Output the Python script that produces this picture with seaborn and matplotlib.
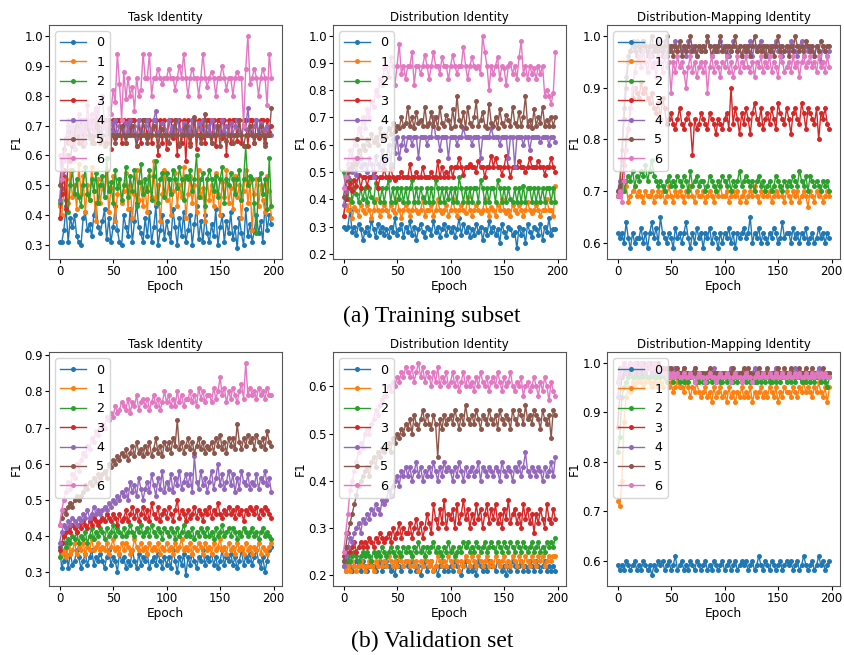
import numpy as np
import matplotlib
matplotlib.use("Agg")
import matplotlib.pyplot as plt
import seaborn as sns

# ---------------- data (F1 in hundredths, sampled every 2 epochs) ----------------
epochs = list(range(0, 200, 2))
series_labels = ["0", "1", "2", "3", "4", "5", "6"]
panel_titles = ["Task Identity", "Distribution Identity", "Distribution-Mapping Identity"]
captions = ["(a) Training subset", "(b) Validation set"]
x_ticks = [0, 50, 100, 150, 200]

train_task = [
    [31,31,35,43,31,39,36,40,33,31, 30,39,41,35,37,33,40,44,36,34, 38,42,32,39,31,36,43,35,31,30,
     40,36,33,42,31,38,44,36,34,31, 39,33,41,31,36,43,30,35,40,32, 38,34,31,42,36,30,39,33,41,31,
     35,40,30,37,43,32,38,31,40,34, 31,37,33,42,30,36,40,31,38,34, 41,32,36,29,39,34,30,42,33,37,
     31,35,40,34,38,31,44,35,40,37],
    [43,40,48,52,44,55,46,50,42,57, 47,53,41,50,45,56,48,38,52,44, 50,46,55,41,49,53,38,47,52,44,
     48,54,42,50,39,47,55,45,51,43, 49,41,53,46,58,44,50,38,47,55, 45,52,40,48,54,43,50,46,56,39,
     47,53,44,50,41,55,46,49,38,52, 45,50,43,54,47,40,51,46,55,44, 49,42,53,46,50,39,48,55,44,51,
     35,47,52,43,50,45,41,53,48,39],
    [44,49,53,45,41,50,55,47,52,46, 43,50,56,47,45,52,48,54,44,50, 53,46,59,48,51,44,55,49,52,45,
     50,56,46,53,48,55,43,51,57,47, 52,48,55,45,53,58,44,52,54,46, 54,52,47,55,52,49,56,52,45,53,
     52,55,48,52,60,46,52,54,43,52, 55,52,48,53,46,52,56,44,52,50, 54,52,47,52,55,45,52,63,50,53,
     52,44,34,52,54,47,52,42,59,43],
    [39,47,55,42,60,58,65,62,68,64, 72,64,70,72,66,72,64,72,68,64, 72,72,64,72,62,72,66,72,72,64,
     72,64,72,68,72,72,63,72,64,72, 72,66,72,64,72,72,60,72,64,72, 62,72,72,66,72,60,72,64,72,58,
     72,64,72,72,62,72,66,72,64,72, 72,64,72,63,72,72,66,72,60,72, 64,72,72,65,72,64,72,72,63,72,
     72,64,72,66,72,72,64,72,68,70],
    [45,54,60,65,70,67,72,68,71,66, 70,67,72,69,66,71,67,75,70,68, 67,72,69,67,71,68,72,67,70,69,
     67,71,68,72,67,70,66,72,68,67, 70,72,67,69,72,75,68,67,71,69, 67,72,68,70,67,72,69,67,71,68,
     70,67,72,68,67,71,69,72,67,70, 68,72,67,70,69,67,72,68,70,67, 71,67,70,72,68,67,70,69,76,68,
     67,70,72,68,71,67,69,70,67,67],
    [50,58,62,66,64,68,63,67,70,66, 67,63,67,70,67,64,67,67,72,67, 67,63,67,69,67,67,64,67,67,70,
     67,64,67,67,70,67,63,67,67,72, 67,64,67,67,70,67,63,67,69,67, 67,64,67,67,72,67,63,67,67,70,
     67,63,67,73,67,67,64,67,74,67, 67,64,67,67,70,63,67,67,65,67, 67,64,67,67,72,67,63,67,67,70,
     67,64,67,67,70,67,63,67,67,76],
    [60,52,58,66,72,64,70,62,68,74, 66,72,64,77,70,74,68,76,72,78, 80,70,66,76,74,82,78,94,84,72,
     88,79,86,80,83,75,86,80,82,94, 86,86,94,80,86,86,89,86,84,86, 86,89,86,86,82,86,90,86,94,86,
     80,86,89,86,86,80,86,94,86,83, 86,88,86,80,86,86,90,86,82,86, 86,80,86,88,86,86,70,89,100,84,
     86,89,86,80,86,89,86,77,94,86],
]

train_dist = [
    [30,29,30,36,28,30,27,31,29,25, 28,30,27,32,29,26,31,28,30,27, 29,26,30,28,33,27,29,31,26,30,
     28,32,27,30,25,29,31,28,26,30, 29,27,32,28,30,26,29,31,27,30, 28,30,26,29,33,27,31,28,30,26,
     29,27,31,28,30,25,29,27,32,28, 30,27,29,24,31,28,26,30,29,27, 28,22,30,27,29,24,31,28,26,30,
     29,27,31,25,30,28,33,27,29,29],
    [34,38,36,40,33,37,36,34,38,36, 35,38,36,33,36,40,36,34,36,38, 36,34,38,36,35,40,36,33,36,38,
     36,34,36,39,36,35,36,40,34,36, 36,38,34,36,40,36,35,36,38,34, 36,40,36,34,36,38,36,35,41,36,
     34,36,38,36,35,36,40,36,34,37, 36,34,38,36,40,36,35,36,34,38, 36,35,38,36,34,36,39,36,35,36,
     38,36,34,36,36,40,36,36,34,45],
    [50,44,40,47,39,44,42,39,44,40, 44,39,44,41,39,46,44,39,44,39, 44,47,39,44,39,44,40,44,39,44,
     39,44,47,39,44,39,44,41,39,44, 39,44,39,47,44,39,44,39,44,40, 44,39,44,39,48,44,39,44,39,44,
     39,44,44,39,47,44,39,44,39,44, 44,39,47,44,39,44,39,44,40,39, 44,39,44,39,45,39,44,44,39,44,
     39,44,39,44,39,44,44,39,44,39],
    [34,40,44,46,43,47,45,49,44,48, 48,45,48,48,50,48,44,48,48,51, 48,48,52,48,47,48,48,50,48,48,
     48,53,48,48,50,48,48,52,48,48, 48,50,48,48,54,48,52,48,50,48, 52,48,52,52,55,52,49,52,52,53,
     52,52,50,54,52,52,48,52,52,56, 52,55,52,52,49,52,56,52,48,52, 52,52,54,52,52,50,52,55,52,52,
     52,54,52,52,49,52,52,55,52,50],
    [38,43,48,52,50,53,49,55,52,53, 53,50,55,53,48,56,53,52,58,53, 55,60,53,62,57,63,55,60,63,58,
     63,63,60,63,63,55,63,63,63,60, 63,63,70,63,63,58,63,63,63,55, 63,63,63,60,63,63,66,63,63,63,
     60,63,63,63,55,63,63,63,63,66, 63,63,63,60,63,63,63,55,63,63, 52,63,63,63,60,63,63,58,63,63,
     63,63,61,63,63,63,60,63,63,61],
    [41,47,50,53,52,55,53,58,55,60, 58,62,60,64,61,63,60,66,62,64, 63,66,64,68,65,67,66,70,67,68,
     74,67,70,66,72,68,69,67,74,67, 68,72,67,70,66,74,68,67,71,69, 66,73,67,78,69,67,72,66,74,68,
     67,70,76,67,69,72,67,66,75,68, 67,70,66,73,68,67,71,69,67,74, 68,67,72,67,70,78,67,69,66,73,
     67,70,68,74,67,69,67,70,67,70],
    [44,48,53,58,55,62,60,66,63,70, 66,73,70,76,74,80,78,84,82,88, 89,85,92,89,82,89,97,86,89,84,
     89,89,94,82,89,89,86,89,93,89, 84,89,94,89,89,86,92,89,89,84, 89,93,89,86,89,89,96,89,84,89,
     92,89,88,89,86,100,94,89,80,89, 86,89,92,84,89,88,82,89,90,86, 89,84,92,98,86,89,84,89,86,88,
     84,89,86,89,78,80,78,75,79,94],
]

train_map = [
    [62,61,62,60,64,61,59,62,60,61, 61,63,60,62,59,62,64,61,63,60, 65,62,61,60,62,61,59,63,61,62,
     60,62,64,61,59,62,60,63,61,62, 59,62,61,63,60,62,61,59,62,60, 62,61,63,60,62,59,62,61,62,63,
     61,62,65,60,62,61,63,60,62,61, 60,62,61,63,62,60,61,64,61,62, 62,60,63,61,62,60,62,61,63,60,
     61,62,60,61,63,61,62,60,62,61],
    [69,69,70,70,71,68,69,70,71,69, 70,69,68,70,69,69,70,68,69,70, 69,70,68,69,71,69,68,70,69,70,
     69,68,70,69,71,69,68,70,69,69, 70,68,69,70,69,68,70,69,71,69, 69,70,68,69,70,69,70,68,69,70,
     68,69,70,69,71,69,68,70,69,70, 69,70,68,69,70,69,71,69,68,70, 69,68,70,69,70,68,69,70,69,67,
     70,69,68,70,69,70,68,69,70,69],
    [69,70,71,70,72,73,72,74,71,73, 72,74,73,75,72,74,76,73,72,71, 72,71,70,72,73,71,72,71,73,72,
     71,73,72,70,74,71,72,73,71,72, 72,70,71,73,72,71,70,72,71,73, 72,71,73,70,72,71,72,74,71,72,
     73,72,71,72,70,72,73,71,72,70, 71,72,70,71,73,72,71,70,72,71, 72,71,73,72,71,74,72,71,73,70,
     73,72,71,72,71,70,72,71,72,70],
    [69,70,72,75,80,82,86,88,90,89, 88,91,89,90,88,87,89,86,85,87, 84,88,86,83,84,85,83,82,84,86,
     83,82,84,85,83,77,84,82,83,85, 84,83,82,85,84,83,81,84,83,82, 84,85,82,90,83,86,84,81,85,83,
     86,84,81,85,87,84,83,86,82,84, 85,83,86,84,82,87,85,84,83,86, 84,81,85,86,84,83,87,85,82,86,
     85,84,83,86,80,85,84,86,83,82],
    [70,72,78,86,92,96,97,98,97,99, 98,97,99,98,97,98,96,98,97,99, 98,97,99,96,98,97,98,99,97,98,
     97,98,96,99,97,98,97,96,98,97, 98,97,99,98,96,97,98,97,99,98, 97,98,96,97,99,98,97,98,96,97,
     98,97,99,96,98,97,98,99,97,98, 96,98,97,98,99,97,98,96,97,98, 97,99,98,97,96,98,99,97,98,97,
     98,97,96,98,97,95,98,97,96,97],
    [70,71,76,84,90,95,97,99,98,96, 98,97,99,98,96,98,100,97,98,97, 98,96,98,100,97,98,96,98,97,99,
     96,98,97,98,100,97,98,96,98,97, 98,97,100,98,96,98,97,98,100,97, 98,96,98,97,98,100,97,98,96,98,
     97,98,96,98,100,97,98,97,98,96, 98,97,98,96,98,100,97,98,97,98, 96,98,97,100,98,97,98,96,99,98,
     97,98,96,98,97,99,98,97,98,98],
    [69,70,68,72,78,82,86,90,93,95, 96,94,97,95,93,96,94,95,92,96, 95,93,96,94,95,89,95,93,96,94,
     95,93,90,94,96,93,95,92,94,95, 93,95,89,94,96,93,95,94,92,95, 94,96,93,95,92,94,96,93,95,94,
     96,94,93,95,92,95,94,96,93,95, 94,96,93,95,94,92,96,95,93,94, 95,93,96,94,95,92,95,96,94,95,
     96,94,95,93,96,94,95,93,96,94],
]

val_task = [
    [37,31,33,38,31,35,32,33,36,34, 31,33,35,32,34,36,32,34,33,35, 33,31,34,36,32,34,33,30,35,33,
     34,31,33,32,36,33,31,35,32,34, 33,35,31,33,34,32,35,33,31,34, 32,34,31,36,33,30,34,32,35,29,
     34,32,35,33,31,34,33,36,32,34, 33,35,32,34,31,33,36,32,34,33, 35,32,34,31,33,36,32,34,33,35,
     32,34,36,33,31,34,30,33,36,37],
    [34,35,36,34,37,35,36,38,35,37, 36,38,35,37,36,39,36,37,38,36, 37,36,38,35,37,39,36,37,35,38,
     36,38,37,35,36,39,37,36,38,36, 37,35,38,36,37,36,38,35,37,36, 38,36,37,35,38,36,37,39,36,37,
     36,38,35,37,36,38,37,35,38,36, 37,35,38,36,37,39,36,37,35,38, 36,37,35,38,36,37,35,38,36,37,
     35,37,36,38,35,37,36,35,37,38],
    [34,38,40,37,39,38,40,39,41,38, 40,39,41,38,40,42,39,41,40,42, 41,39,42,40,41,43,40,42,41,40,
     42,40,41,43,41,40,42,41,43,40, 41,42,40,43,41,40,42,41,39,42, 41,40,42,41,39,42,40,41,43,40,
     41,40,42,39,41,40,42,41,40,42, 40,41,39,42,40,41,43,40,41,42, 40,42,41,39,41,40,42,41,40,41,
     42,40,41,39,41,42,40,41,40,39],
    [36,38,40,41,42,41,43,42,41,43, 42,44,43,42,44,43,45,44,43,44, 45,44,46,45,44,46,45,43,46,44,
     45,47,44,46,48,45,47,44,46,48, 45,47,44,49,46,45,48,44,46,47, 45,48,46,44,47,50,45,47,46,44,
     47,45,46,48,45,47,46,44,47,46, 48,45,47,46,49,46,45,47,46,48, 46,47,45,48,46,47,44,47,46,48,
     47,46,48,45,47,46,48,47,46,45],
    [38,41,43,42,44,43,45,44,43,45, 44,46,45,47,45,46,48,46,47,46, 47,48,47,49,48,50,49,51,50,52,
     51,53,50,55,52,54,51,56,53,50, 53,55,52,57,54,51,56,53,58,52, 55,53,57,52,56,54,58,53,55,57,
     54,57,52,62,55,53,58,54,56,52, 55,58,53,56,60,54,57,53,55,58, 54,57,52,56,53,58,55,54,57,53,
     55,54,57,53,56,55,58,54,56,52],
    [43,45,47,46,48,49,48,50,51,50, 51,52,54,53,55,54,56,55,57,56, 57,58,56,60,59,61,60,62,61,63,
     62,64,61,63,65,62,66,63,64,62, 65,63,66,62,64,67,63,65,62,66, 64,66,63,67,65,72,64,66,63,65,
     67,64,66,63,65,67,64,66,63,65, 64,66,63,67,65,68,64,66,63,67, 65,67,64,71,66,64,67,65,68,66,
     67,64,68,66,65,67,64,69,66,65],
    [43,47,50,52,55,53,57,56,60,58, 61,63,62,65,64,67,66,69,68,70, 71,70,73,72,74,73,76,74,75,77,
     76,75,78,74,77,76,79,75,77,78, 76,78,75,77,79,76,78,75,77,80, 77,79,76,78,76,80,77,79,76,78,
     78,80,77,79,76,81,78,80,77,79, 79,77,81,78,80,84,79,81,77,80, 78,81,79,77,80,82,78,88,79,81,
     79,80,78,81,79,80,78,81,79,79],
]

val_dist = [
    [22,21,23,22,21,22,23,22,21,23, 22,21,22,23,22,21,22,23,21,22, 23,22,21,22,20,23,22,21,22,23,
     22,21,23,22,21,22,20,22,23,21, 22,23,21,22,20,22,23,21,22,21, 22,21,23,22,21,20,22,23,21,22,
     21,22,20,23,22,21,22,21,23,22, 22,21,23,22,21,22,20,22,21,23, 22,21,22,23,21,22,21,23,22,21,
     23,22,21,22,23,21,22,21,22,21],
    [22,21,22,21,23,22,21,22,23,22, 21,22,23,22,21,23,22,24,22,23, 22,24,23,22,23,22,24,23,22,23,
     23,22,24,22,23,21,23,22,24,23, 22,23,21,22,24,23,22,23,22,24, 23,22,24,23,21,23,22,24,23,22,
     24,23,22,24,23,22,23,24,22,23, 22,24,23,22,23,24,22,23,22,24, 23,22,24,23,22,24,23,22,24,23,
     22,24,23,24,22,23,24,23,24,24],
    [23,23,24,23,24,25,24,23,24,25, 24,25,24,23,25,24,25,24,26,25, 24,25,26,25,24,26,25,24,26,25,
     26,25,24,26,25,27,25,26,24,26, 25,26,27,25,26,25,24,26,25,27, 25,26,24,25,26,25,27,26,27,25,
     26,25,27,26,25,26,27,25,26,27, 26,25,27,26,25,27,26,25,27,26, 25,27,26,25,27,26,25,26,27,25,
     26,27,25,26,25,27,26,27,26,28],
    [24,25,26,25,26,27,25,26,27,26, 27,26,28,27,26,28,27,29,28,27, 28,29,27,30,28,29,31,28,30,29,
     29,31,28,30,32,29,31,28,30,33, 31,29,35,32,30,34,31,36,30,33, 32,34,30,35,31,33,36,32,34,30,
     33,31,35,32,34,30,33,35,31,34, 32,35,31,33,30,34,32,36,31,33, 34,31,33,30,35,32,34,31,33,29,
     33,31,34,32,30,35,32,31,34,32],
    [22,24,26,28,27,29,30,31,29,32, 31,33,32,34,33,35,34,33,36,35, 36,38,37,39,40,41,39,42,41,43,
     41,43,40,42,44,41,43,40,42,41, 43,41,44,42,40,43,41,44,42,43, 42,40,43,41,44,42,40,43,41,42,
     43,41,42,44,40,43,42,41,43,42, 41,43,42,40,44,42,41,43,42,40, 43,42,44,41,43,46,42,41,43,42,
     41,43,42,40,43,41,42,44,41,45],
    [23,26,29,31,33,35,37,39,40,41, 42,43,41,44,45,43,46,45,47,46, 47,48,46,49,48,50,49,51,50,52,
     51,53,50,54,52,51,53,55,52,54, 52,51,54,52,45,53,51,54,52,53, 54,52,55,53,51,54,52,56,53,52,
     54,52,55,53,51,54,53,52,55,53, 52,54,51,55,53,52,54,53,51,55, 53,52,55,54,52,56,53,54,52,55,
     54,53,51,55,53,52,54,49,55,54],
    [25,29,33,38,40,42,44,46,48,47, 50,51,50,52,53,55,54,56,57,58, 58,60,59,61,60,62,61,63,62,64,
     63,62,64,61,63,65,62,64,61,63, 62,60,63,61,64,60,62,61,63,60, 61,63,60,62,59,61,63,60,62,60,
     61,59,62,60,63,61,60,62,59,61, 62,60,63,61,59,62,60,61,63,60, 59,61,60,62,58,60,61,59,60,62,
     60,58,61,59,62,60,57,61,59,58],
]

val_map = [
    [59,58,59,58,60,59,58,59,60,58, 59,58,60,59,58,59,57,59,58,60, 59,60,58,59,60,58,59,61,58,59,
     60,58,59,58,60,59,58,60,59,58, 59,60,58,59,58,60,59,58,59,60, 58,59,60,58,59,60,58,59,60,59,
     60,58,59,60,58,59,61,59,58,60, 59,58,60,59,58,59,60,58,59,60, 59,60,58,59,60,58,59,61,59,58,
     59,60,58,59,61,59,60,58,59,60],
    [72,71,76,88,93,95,94,96,95,96, 97,96,95,96,97,96,95,96,97,95, 96,95,97,96,95,96,94,95,96,95,
     95,94,96,95,93,95,94,96,94,93, 94,95,93,94,92,95,93,94,95,93, 94,92,95,93,94,92,94,93,95,93,
     94,93,95,92,94,93,94,95,93,94, 93,95,94,93,95,92,94,93,95,94, 94,93,95,94,93,95,94,96,94,95,
     94,93,95,94,96,94,93,95,92,95],
    [82,85,93,95,96,97,98,97,97,98, 97,98,97,98,97,97,98,97,98,97, 97,98,97,96,97,98,96,97,97,96,
     97,96,97,96,97,97,96,97,96,97, 96,97,96,97,96,97,96,97,96,96, 97,96,97,96,96,97,96,97,96,97,
     96,97,96,97,96,96,97,96,97,96, 97,96,96,97,96,97,96,97,97,96, 97,96,97,96,97,97,96,97,96,97,
     96,97,96,97,97,96,97,96,95,97],
    [87,93,97,98,99,98,99,98,99,98, 99,98,99,98,99,99,98,99,98,99, 98,99,98,98,99,98,98,99,98,98,
     98,97,98,98,97,98,98,97,98,98, 98,97,98,98,97,98,98,97,98,98, 97,98,98,97,98,98,97,98,97,98,
     98,97,98,98,97,98,97,98,98,97, 98,97,98,97,98,98,97,98,97,98, 98,97,98,98,97,98,98,97,98,98,
     98,97,98,98,97,98,98,97,98,98],
    [93,97,99,99,98,99,99,98,99,99, 98,99,99,98,99,99,98,99,98,99, 98,99,98,98,99,98,98,99,98,98,
     98,99,98,98,97,98,99,98,98,97, 98,98,97,98,98,99,98,97,98,98, 97,98,98,99,98,97,98,98,97,98,
     98,97,98,98,99,98,97,98,98,97, 98,98,97,98,99,98,98,97,98,98, 97,98,98,99,98,97,98,98,97,98,
     98,97,98,98,99,98,97,98,98,98],
    [96,99,99,100,99,99,100,99,99,100, 99,99,100,99,99,100,99,99,99,100, 99,99,98,99,98,99,98,98,99,98,
     98,99,98,98,97,98,99,98,98,97, 98,97,98,99,98,97,98,98,97,98, 98,97,98,98,99,98,97,98,98,99,
     98,99,98,97,98,98,99,98,97,98, 99,98,98,97,98,99,98,98,99,98, 98,99,98,97,98,99,98,98,99,98,
     98,99,98,98,97,98,99,98,98,98],
    [96,98,99,100,99,99,100,99,100,99, 99,100,99,99,100,99,99,100,99,99, 99,98,98,97,98,97,98,97,98,97,
     97,98,97,97,98,97,96,97,98,97, 97,96,97,98,97,97,96,97,98,97, 97,98,97,96,97,98,97,97,96,97,
     98,97,97,96,97,98,97,97,98,97, 97,98,97,97,98,97,97,98,97,97, 98,97,97,98,97,98,97,97,98,97,
     97,98,97,98,97,98,97,98,97,97],
]

panels = [[train_task, train_dist, train_map], [val_task, val_dist, val_map]]

# ---------------- styling ----------------
plt.rcParams.update({
    "font.family": ["DejaVu Sans"],
    "font.size": 8.5,
    "axes.titlesize": 8.5,
    "axes.titlepad": 2.8,
    "axes.labelsize": 8.7,
    "axes.labelpad": 1.5,
    "xtick.labelsize": 8.5,
    "ytick.labelsize": 8.5,
    "xtick.major.pad": 1.5,
    "ytick.major.pad": 1.2,
    "xtick.major.size": 3,
    "ytick.major.size": 3,
    "legend.fontsize": 9.2,
    "legend.labelspacing": 0.5,
})
palette = sns.color_palette("tab10", 7)

W, H = 845, 655
fig = plt.figure(figsize=(W / 100, H / 100), dpi=100)
lefts = [49, 333, 607]
tops = [25, 352]
aw, ah = 233, 234

for r in range(2):
    for c in range(3):
        ax = fig.add_axes([lefts[c] / W, 1 - (tops[r] + ah) / H, aw / W, ah / H])
        for i, vals in enumerate(panels[r][c]):
            y = np.asarray(vals, dtype=float) / 100.0
            x = epochs[:len(y)]
            sns.lineplot(x=x, y=y[:len(x)], ax=ax, color=palette[i], marker="o",
                         markersize=3.6, markeredgewidth=0, linewidth=1.0,
                         label=series_labels[i], estimator=None, sort=False)
        ax.set_title(panel_titles[c])
        ax.set_xlabel("Epoch")
        ax.set_ylabel("F1")
        ax.set_xticks(x_ticks)
        ax.legend(loc="upper left")
        for s in ax.spines.values():
            s.set_color("#555555")
            s.set_linewidth(0.8)

for k, cap in enumerate(captions):
    fig.text(432 / W, 1 - [316, 641][k] / H, cap, family=["Liberation Serif"],
             fontsize=17, ha="center", va="center")

fig.savefig("out.png", dpi=100)
